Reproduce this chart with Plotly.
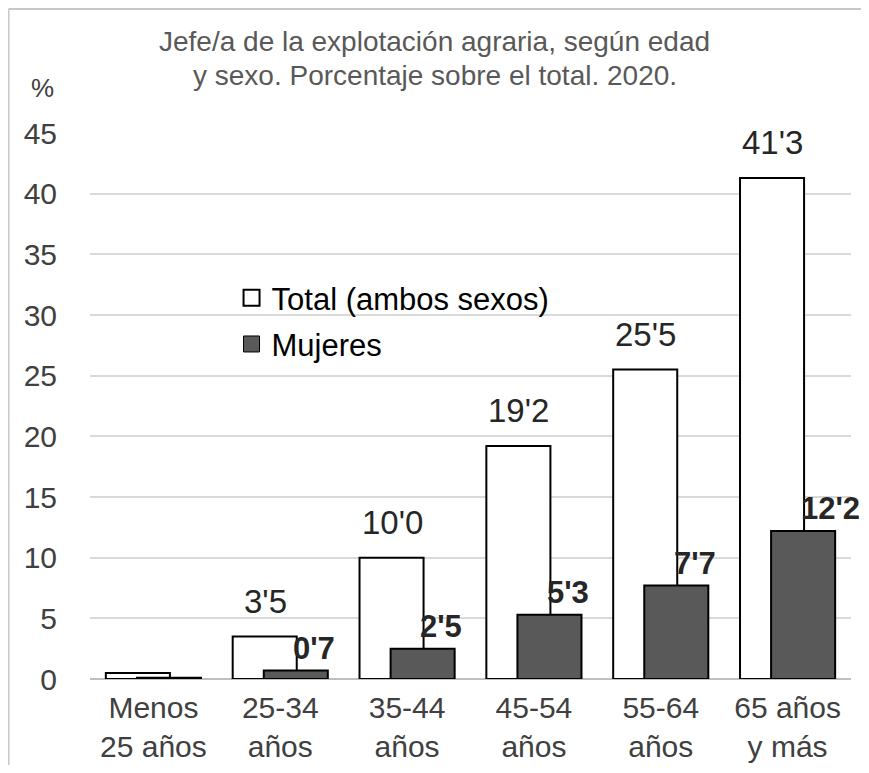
import plotly.graph_objects as go

categories = ["Menos<br>25 años", "25-34<br>años", "35-44<br>años", "45-54<br>años", "55-64<br>años", "65 años<br>y más"]
total = [0.5, 3.5, 10.0, 19.2, 25.5, 41.3]
mujeres = [0.1, 0.7, 2.5, 5.3, 7.7, 12.2]
show_label = [False, True, True, True, True, True]
y_ticks = [0, 5, 10, 15, 20, 25, 30, 35, 40, 45]
title_lines = ["Jefe/a de la explotación agraria, según edad",
               "y sexo. Porcentaje sobre el total. 2020."]

FONT = "Liberation Sans, Arial, sans-serif"

def fmt(v):
    return f"{v:.1f}".replace(".", "'")

fig = go.Figure()
fig.add_trace(go.Bar(x=categories, y=total, name="Total (ambos sexos)",
                     width=[0.505] * len(categories), offset=-0.375,
                     marker=dict(color="white", line=dict(color="black", width=2)),
                     showlegend=False))
fig.add_trace(go.Bar(x=categories, y=mujeres, name="Mujeres",
                     width=[0.505] * len(categories), offset=-0.13,
                     marker=dict(color="#595959", line=dict(color="black", width=2)),
                     showlegend=False))
# legend entries
fig.add_trace(go.Scatter(x=[None], y=[None], mode="markers", name="Total (ambos sexos)",
                         legendgroup="a",
                         marker=dict(symbol="square", size=16, color="white",
                                     line=dict(color="black", width=2))))
fig.add_trace(go.Scatter(x=[None], y=[None], mode="markers", name="Mujeres",
                         legendgroup="b",
                         marker=dict(symbol="square", size=16, color="#595959",
                                     line=dict(color="black", width=1))))

annotations = []
for c, t, m, s in zip(categories, total, mujeres, show_label):
    if not s:
        continue
    annotations.append(dict(x=c, y=t, text=fmt(t), showarrow=False, xref="x", yref="y",
                            xanchor="center", yanchor="bottom", xshift=-15, yshift=15,
                            font=dict(family=FONT, size=33, color="#262626")))
    annotations.append(dict(x=c, y=m, text="<b>" + fmt(m) + "</b>", showarrow=False, xref="x", yref="y",
                            xanchor="left", yanchor="bottom", xshift=11, yshift=3,
                            font=dict(family=FONT, size=31, color="#262626")))
annotations.append(dict(x=-0.062, y=1.082, xref="paper", yref="paper", text="%", showarrow=False,
                        xanchor="center", yanchor="middle",
                        font=dict(family=FONT, size=26, color="#404040")))
for line, ty in zip(title_lines, [1.1667, 1.1062]):
    annotations.append(dict(x=0.4527, y=ty, xref="paper", yref="paper", text=line,
                            showarrow=False, xanchor="center", yanchor="middle",
                            font=dict(family=FONT, size=28, color="#595959")))

shapes = [
    dict(type="line", xref="paper", yref="paper", x0=-0.1071, x1=-0.1071, y0=-0.16, y1=1.2271,
         line=dict(color="#c8c8c8", width=2)),
    dict(type="line", xref="paper", yref="paper", x0=-0.1071, x1=1.02, y0=1.2271, y1=1.2271,
         line=dict(color="#c8c8c8", width=2)),
]

fig.update_layout(
    width=853, height=757,
    margin=dict(l=82, r=10, t=125, b=86, autoexpand=False),
    paper_bgcolor="white", plot_bgcolor="white",
    barmode="overlay",
    legend=dict(x=0.186, y=0.7472, xanchor="left", yanchor="top", bgcolor="rgba(0,0,0,0)",
                tracegroupgap=3,
                font=dict(family=FONT, size=31, color="black")),
    annotations=annotations,
    shapes=shapes,
    showlegend=True,
)
fig.update_xaxes(range=[-0.5, 5.5], tickfont=dict(family=FONT, size=30, color="#404040"),
                 showgrid=False, showline=False, ticks="", automargin=False,
                 ticklabelstandoff=8)
fig.update_yaxes(range=[0, 45], tickvals=y_ticks, ticktext=[str(v) for v in y_ticks],
                 tickfont=dict(family=FONT, size=30, color="#404040"),
                 showgrid=True, gridcolor="#d9d9d9", gridwidth=1.5,
                 zeroline=True, zerolinecolor="#bfbfbf", zerolinewidth=2,
                 ticklabelstandoff=32, automargin=False)

fig.write_html("out.html")
